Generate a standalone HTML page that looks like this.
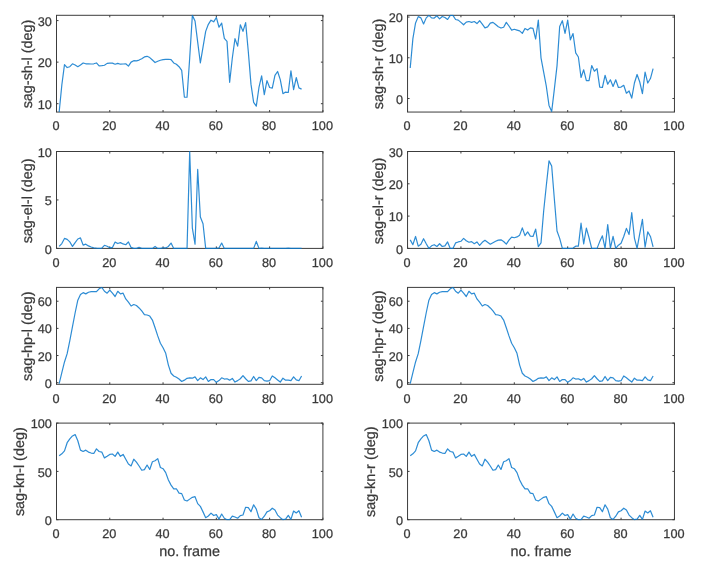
<!DOCTYPE html><html><head><meta charset="utf-8"><title>chart</title><style>html,body{margin:0;padding:0;background:#fff}svg{display:block;will-change:transform}text{font-family:"Liberation Sans",sans-serif;fill:#3a3a3a;stroke:#3a3a3a;stroke-width:0.25px;text-rendering:geometricPrecision}</style></head><body>
<svg width="701" height="571" viewBox="0 0 701 571">
<rect width="701" height="571" fill="#fff"/>
<clipPath id="c1"><rect x="56.50" y="14.60" width="266.40" height="98.15"/></clipPath>
<rect x="56.50" y="15.30" width="266.40" height="96.75" fill="none" stroke="#3c3c3c" stroke-width="1"/>
<text x="56.00" y="130.30" font-size="12.7" text-anchor="middle">0</text>
<text x="109.28" y="130.30" font-size="12.7" text-anchor="middle">20</text>
<text x="162.56" y="130.30" font-size="12.7" text-anchor="middle">40</text>
<text x="215.84" y="130.30" font-size="12.7" text-anchor="middle">60</text>
<text x="269.12" y="130.30" font-size="12.7" text-anchor="middle">80</text>
<text x="322.40" y="130.30" font-size="12.7" text-anchor="middle">100</text>
<text x="51.90" y="108.80" font-size="12.7" text-anchor="end">10</text>
<text x="51.90" y="67.24" font-size="12.7" text-anchor="end">20</text>
<text x="51.90" y="25.68" font-size="12.7" text-anchor="end">30</text>
<path d="M56.50 112.05v-2.00M56.50 15.30v2.00M109.78 112.05v-2.00M109.78 15.30v2.00M163.06 112.05v-2.00M163.06 15.30v2.00M216.34 112.05v-2.00M216.34 15.30v2.00M269.62 112.05v-2.00M269.62 15.30v2.00M322.90 112.05v-2.00M322.90 15.30v2.00M56.50 103.70h2.00M322.90 103.70h-2.00M56.50 62.14h2.00M322.90 62.14h-2.00M56.50 20.58h2.00M322.90 20.58h-2.00" stroke="#3c3c3c" stroke-width="1" fill="none"/>
<polyline clip-path="url(#c1)" points="59.16,112.01 61.83,84.99 64.49,64.63 67.16,67.54 69.82,66.71 72.48,63.80 75.15,65.05 77.81,66.71 80.48,65.05 83.14,62.97 85.80,63.80 88.47,63.80 91.13,64.01 93.80,63.80 96.46,62.97 99.12,65.88 101.79,65.67 104.45,65.25 107.12,63.38 109.78,63.18 112.44,63.18 115.11,64.22 117.77,63.38 120.44,64.22 123.10,64.01 125.76,63.80 128.43,66.09 131.09,62.14 133.76,60.68 136.42,60.89 139.08,60.06 141.75,58.81 144.41,56.94 147.08,56.32 149.74,57.57 152.40,60.06 155.07,62.55 157.73,61.31 160.40,60.27 163.06,59.64 165.72,59.44 168.39,59.23 171.05,59.64 173.72,62.97 176.38,64.22 179.04,66.71 181.71,70.45 184.37,97.05 187.04,97.25 189.70,57.98 192.36,15.38 195.03,20.99 197.69,42.19 200.36,62.97 203.02,47.18 205.68,31.38 208.35,24.32 211.01,20.16 213.68,21.82 216.34,17.46 219.00,27.23 221.67,23.07 224.33,38.45 227.00,41.36 229.66,82.29 232.32,57.98 234.99,38.66 237.65,46.14 240.32,24.73 242.98,31.38 245.64,22.66 248.31,51.75 250.97,84.16 253.64,102.45 256.30,106.19 258.96,87.49 261.63,75.85 264.29,94.55 266.96,80.63 269.62,87.49 272.28,88.11 274.95,75.44 277.61,71.49 280.28,79.59 282.94,93.72 285.60,92.06 288.27,92.48 290.93,70.86 293.60,89.57 296.26,77.51 298.92,87.90 301.59,89.15" fill="none" stroke="#0878cc" stroke-width="1.2" stroke-opacity="0.85" stroke-linejoin="round"/>
<text transform="translate(31.60 63.97) rotate(-90)" font-size="14.4" text-anchor="middle">sag-sh-l (deg)</text>
<clipPath id="c2"><rect x="407.55" y="14.60" width="266.90" height="98.15"/></clipPath>
<rect x="407.55" y="15.30" width="266.90" height="96.75" fill="none" stroke="#3c3c3c" stroke-width="1"/>
<text x="407.05" y="130.30" font-size="12.7" text-anchor="middle">0</text>
<text x="460.43" y="130.30" font-size="12.7" text-anchor="middle">20</text>
<text x="513.81" y="130.30" font-size="12.7" text-anchor="middle">40</text>
<text x="567.19" y="130.30" font-size="12.7" text-anchor="middle">60</text>
<text x="620.57" y="130.30" font-size="12.7" text-anchor="middle">80</text>
<text x="673.95" y="130.30" font-size="12.7" text-anchor="middle">100</text>
<text x="402.95" y="103.59" font-size="12.7" text-anchor="end">0</text>
<text x="402.95" y="62.87" font-size="12.7" text-anchor="end">10</text>
<text x="402.95" y="22.15" font-size="12.7" text-anchor="end">20</text>
<path d="M407.55 112.05v-2.00M407.55 15.30v2.00M460.93 112.05v-2.00M460.93 15.30v2.00M514.31 112.05v-2.00M514.31 15.30v2.00M567.69 112.05v-2.00M567.69 15.30v2.00M621.07 112.05v-2.00M621.07 15.30v2.00M674.45 112.05v-2.00M674.45 15.30v2.00M407.55 98.49h2.00M674.45 98.49h-2.00M407.55 57.77h2.00M674.45 57.77h-2.00M407.55 17.05h2.00M674.45 17.05h-2.00" stroke="#3c3c3c" stroke-width="1" fill="none"/>
<polyline clip-path="url(#c2)" points="410.22,67.95 412.89,38.63 415.56,22.96 418.23,16.64 420.90,17.87 423.56,23.97 426.23,17.87 428.90,15.42 431.57,17.87 434.24,18.07 436.91,15.83 439.58,18.88 442.25,16.44 444.92,17.46 447.59,19.49 450.25,15.42 452.92,15.42 455.59,19.49 458.26,20.10 460.93,22.34 463.60,24.79 466.27,22.14 468.94,21.53 471.61,22.34 474.28,21.53 476.94,23.57 479.61,20.72 482.28,24.18 484.95,27.84 487.62,26.82 490.29,23.16 492.96,22.34 495.63,24.58 498.30,26.82 500.97,28.05 503.63,27.23 506.30,22.34 508.97,26.01 511.64,30.08 514.31,29.27 516.98,30.08 519.65,30.90 522.32,33.34 524.99,28.45 527.65,30.08 530.32,27.84 532.99,28.45 535.66,39.04 538.33,20.10 541.00,57.77 543.67,72.02 546.34,86.48 549.01,105.41 551.68,111.52 554.35,89.12 557.01,65.91 559.68,26.42 562.35,20.72 565.02,33.34 567.69,20.10 570.36,39.85 573.03,33.54 575.70,52.88 578.37,56.96 581.04,77.52 583.70,69.78 586.37,80.57 589.04,80.57 591.71,65.51 594.38,71.21 597.05,68.56 599.72,87.09 602.39,87.50 605.06,75.28 607.73,84.24 610.39,79.76 613.06,86.48 615.73,79.76 618.40,87.50 621.07,87.09 623.74,85.26 626.41,93.20 629.08,90.96 631.75,98.08 634.42,83.02 637.08,74.47 639.75,82.00 642.42,93.60 645.09,72.02 647.76,83.02 650.43,78.54 653.10,68.56" fill="none" stroke="#0878cc" stroke-width="1.2" stroke-opacity="0.85" stroke-linejoin="round"/>
<text transform="translate(382.65 63.97) rotate(-90)" font-size="14.4" text-anchor="middle">sag-sh-r (deg)</text>
<clipPath id="c3"><rect x="56.50" y="150.80" width="266.40" height="98.30"/></clipPath>
<rect x="56.50" y="151.50" width="266.40" height="96.90" fill="none" stroke="#3c3c3c" stroke-width="1"/>
<text x="56.00" y="266.65" font-size="12.7" text-anchor="middle">0</text>
<text x="109.28" y="266.65" font-size="12.7" text-anchor="middle">20</text>
<text x="162.56" y="266.65" font-size="12.7" text-anchor="middle">40</text>
<text x="215.84" y="266.65" font-size="12.7" text-anchor="middle">60</text>
<text x="269.12" y="266.65" font-size="12.7" text-anchor="middle">80</text>
<text x="322.40" y="266.65" font-size="12.7" text-anchor="middle">100</text>
<text x="51.90" y="253.50" font-size="12.7" text-anchor="end">0</text>
<text x="51.90" y="205.05" font-size="12.7" text-anchor="end">5</text>
<text x="51.90" y="156.60" font-size="12.7" text-anchor="end">10</text>
<path d="M56.50 248.40v-2.00M56.50 151.50v2.00M109.78 248.40v-2.00M109.78 151.50v2.00M163.06 248.40v-2.00M163.06 151.50v2.00M216.34 248.40v-2.00M216.34 151.50v2.00M269.62 248.40v-2.00M269.62 151.50v2.00M322.90 248.40v-2.00M322.90 151.50v2.00M56.50 248.40h2.00M322.90 248.40h-2.00M56.50 199.95h2.00M322.90 199.95h-2.00M56.50 151.50h2.00M322.90 151.50h-2.00" stroke="#3c3c3c" stroke-width="1" fill="none"/>
<polyline clip-path="url(#c3)" points="59.16,246.46 61.83,243.56 64.49,238.42 67.16,239.39 69.82,241.91 72.48,246.46 75.15,242.59 77.81,239.00 80.48,237.93 83.14,245.11 85.80,244.14 88.47,245.88 91.13,247.04 93.80,247.82 96.46,248.21 99.12,248.40 101.79,248.21 104.45,245.30 107.12,246.27 109.78,247.82 112.44,247.43 115.11,242.10 117.77,243.56 120.44,242.59 123.10,243.94 125.76,244.72 128.43,241.91 131.09,247.43 133.76,248.40 136.42,248.40 139.08,247.43 141.75,248.40 144.41,248.40 147.08,248.40 149.74,248.40 152.40,248.40 155.07,246.46 157.73,248.40 160.40,248.40 163.06,247.92 165.72,247.92 168.39,246.46 171.05,243.07 173.72,248.40 176.38,248.40 179.04,248.40 181.71,248.40 184.37,248.40 187.04,248.40 189.70,151.50 192.36,228.05 195.03,244.23 197.69,169.43 200.36,216.91 203.02,223.69 205.68,248.40 208.35,248.40 211.01,248.40 213.68,248.40 216.34,248.40 219.00,247.92 221.67,243.07 224.33,248.40 227.00,248.40 229.66,248.40 232.32,248.40 234.99,248.40 237.65,248.40 240.32,248.40 242.98,248.40 245.64,248.40 248.31,248.40 250.97,248.40 253.64,248.40 256.30,241.42 258.96,248.40 261.63,248.11 264.29,248.40 266.96,248.40 269.62,248.40 272.28,248.40 274.95,248.40 277.61,248.40 280.28,248.40 282.94,248.40 285.60,248.40 288.27,248.11 290.93,248.40 293.60,248.40 296.26,248.40 298.92,248.40 301.59,248.40" fill="none" stroke="#0878cc" stroke-width="1.2" stroke-opacity="0.85" stroke-linejoin="round"/>
<text transform="translate(31.60 200.95) rotate(-90)" font-size="14.4" text-anchor="middle">sag-el-l (deg)</text>
<clipPath id="c4"><rect x="407.55" y="150.80" width="266.90" height="98.30"/></clipPath>
<rect x="407.55" y="151.50" width="266.90" height="96.90" fill="none" stroke="#3c3c3c" stroke-width="1"/>
<text x="407.05" y="266.65" font-size="12.7" text-anchor="middle">0</text>
<text x="460.43" y="266.65" font-size="12.7" text-anchor="middle">20</text>
<text x="513.81" y="266.65" font-size="12.7" text-anchor="middle">40</text>
<text x="567.19" y="266.65" font-size="12.7" text-anchor="middle">60</text>
<text x="620.57" y="266.65" font-size="12.7" text-anchor="middle">80</text>
<text x="673.95" y="266.65" font-size="12.7" text-anchor="middle">100</text>
<text x="402.95" y="253.50" font-size="12.7" text-anchor="end">0</text>
<text x="402.95" y="221.20" font-size="12.7" text-anchor="end">10</text>
<text x="402.95" y="188.90" font-size="12.7" text-anchor="end">20</text>
<text x="402.95" y="156.60" font-size="12.7" text-anchor="end">30</text>
<path d="M407.55 248.40v-2.00M407.55 151.50v2.00M460.93 248.40v-2.00M460.93 151.50v2.00M514.31 248.40v-2.00M514.31 151.50v2.00M567.69 248.40v-2.00M567.69 151.50v2.00M621.07 248.40v-2.00M621.07 151.50v2.00M674.45 248.40v-2.00M674.45 151.50v2.00M407.55 248.40h2.00M674.45 248.40h-2.00M407.55 216.10h2.00M674.45 216.10h-2.00M407.55 183.80h2.00M674.45 183.80h-2.00M407.55 151.50h2.00M674.45 151.50h-2.00" stroke="#3c3c3c" stroke-width="1" fill="none"/>
<polyline clip-path="url(#c4)" points="410.22,239.84 412.89,244.69 415.56,236.45 418.23,246.14 420.90,244.20 423.56,238.71 426.23,243.72 428.90,248.40 431.57,245.82 434.24,244.69 436.91,246.46 439.58,243.72 442.25,246.46 444.92,245.82 447.59,241.94 450.25,248.40 452.92,248.40 455.59,242.91 458.26,241.94 460.93,241.29 463.60,238.39 466.27,240.81 468.94,242.26 471.61,241.62 474.28,243.72 476.94,241.94 479.61,245.49 482.28,242.26 484.95,240.33 487.62,242.26 490.29,244.20 492.96,242.75 495.63,241.29 498.30,240.16 500.97,239.84 503.63,241.46 506.30,244.20 508.97,240.16 511.64,237.09 514.31,237.74 516.98,236.93 519.65,235.16 522.32,227.89 524.99,235.64 527.65,231.93 530.32,236.13 532.99,236.45 535.66,229.18 538.33,246.62 541.00,242.91 543.67,210.93 546.34,185.25 549.01,160.87 551.68,166.04 554.35,198.98 557.01,230.96 559.68,238.39 562.35,248.40 565.02,248.40 567.69,248.40 570.36,248.40 573.03,248.08 575.70,246.14 578.37,246.14 581.04,223.21 583.70,243.88 586.37,228.21 589.04,237.74 591.71,248.40 594.38,248.40 597.05,248.40 599.72,241.62 602.39,235.80 605.06,248.40 607.73,224.50 610.39,248.08 613.06,236.45 615.73,248.40 618.40,245.17 621.07,243.23 623.74,236.45 626.41,228.37 629.08,234.51 631.75,212.71 634.42,238.06 637.08,248.40 639.75,233.70 642.42,219.33 645.09,247.27 647.76,231.93 650.43,236.45 653.10,246.95" fill="none" stroke="#0878cc" stroke-width="1.2" stroke-opacity="0.85" stroke-linejoin="round"/>
<text transform="translate(382.65 200.95) rotate(-90)" font-size="14.4" text-anchor="middle">sag-el-r (deg)</text>
<clipPath id="c5"><rect x="56.50" y="286.70" width="266.40" height="98.30"/></clipPath>
<rect x="56.50" y="287.40" width="266.40" height="96.90" fill="none" stroke="#3c3c3c" stroke-width="1"/>
<text x="56.00" y="402.55" font-size="12.7" text-anchor="middle">0</text>
<text x="109.28" y="402.55" font-size="12.7" text-anchor="middle">20</text>
<text x="162.56" y="402.55" font-size="12.7" text-anchor="middle">40</text>
<text x="215.84" y="402.55" font-size="12.7" text-anchor="middle">60</text>
<text x="269.12" y="402.55" font-size="12.7" text-anchor="middle">80</text>
<text x="322.40" y="402.55" font-size="12.7" text-anchor="middle">100</text>
<text x="51.90" y="387.80" font-size="12.7" text-anchor="end">0</text>
<text x="51.90" y="360.64" font-size="12.7" text-anchor="end">20</text>
<text x="51.90" y="333.48" font-size="12.7" text-anchor="end">40</text>
<text x="51.90" y="306.32" font-size="12.7" text-anchor="end">60</text>
<path d="M56.50 384.30v-2.00M56.50 287.40v2.00M109.78 384.30v-2.00M109.78 287.40v2.00M163.06 384.30v-2.00M163.06 287.40v2.00M216.34 384.30v-2.00M216.34 287.40v2.00M269.62 384.30v-2.00M269.62 287.40v2.00M322.90 384.30v-2.00M322.90 287.40v2.00M56.50 382.70h2.00M322.90 382.70h-2.00M56.50 355.54h2.00M322.90 355.54h-2.00M56.50 328.38h2.00M322.90 328.38h-2.00M56.50 301.22h2.00M322.90 301.22h-2.00" stroke="#3c3c3c" stroke-width="1" fill="none"/>
<polyline clip-path="url(#c5)" points="59.16,383.72 61.83,372.56 64.49,361.95 67.16,353.68 69.82,340.73 72.48,326.68 75.15,312.76 77.81,300.22 80.48,294.44 83.14,292.64 85.80,293.88 88.47,292.23 91.13,291.68 93.80,291.68 96.46,291.68 99.12,288.79 101.79,287.41 104.45,291.27 107.12,293.20 109.78,290.03 112.44,293.20 115.11,296.50 117.77,291.27 120.44,293.88 123.10,293.20 125.76,298.98 128.43,302.15 131.09,306.01 133.76,304.49 136.42,305.46 139.08,307.94 141.75,310.97 144.41,314.55 147.08,314.97 149.74,316.07 152.40,320.06 155.07,327.78 157.73,335.91 160.40,343.21 163.06,347.76 165.72,353.27 168.39,365.12 171.05,373.25 173.72,376.01 176.38,377.25 179.04,379.04 181.71,381.45 184.37,380.14 187.04,378.35 189.70,377.80 192.36,378.21 195.03,376.90 197.69,380.55 200.36,377.80 203.02,379.59 205.68,376.90 208.35,381.45 211.01,379.59 213.68,379.59 216.34,382.34 219.00,380.55 221.67,377.80 224.33,379.04 227.00,378.76 229.66,380.14 232.32,378.42 234.99,382.07 237.65,380.62 240.32,378.76 242.98,375.59 245.64,378.76 248.31,381.38 250.97,380.83 253.64,376.49 256.30,380.62 258.96,377.31 261.63,377.80 264.29,380.69 266.96,381.10 269.62,380.69 272.28,375.94 274.95,377.80 277.61,379.93 280.28,382.07 282.94,378.21 285.60,380.21 288.27,380.21 290.93,380.69 293.60,376.83 296.26,379.93 298.92,380.69 301.59,375.94" fill="none" stroke="#0878cc" stroke-width="1.2" stroke-opacity="0.85" stroke-linejoin="round"/>
<text transform="translate(31.60 336.15) rotate(-90)" font-size="14.4" text-anchor="middle">sag-hp-l (deg)</text>
<clipPath id="c6"><rect x="407.55" y="286.70" width="266.90" height="98.30"/></clipPath>
<rect x="407.55" y="287.40" width="266.90" height="96.90" fill="none" stroke="#3c3c3c" stroke-width="1"/>
<text x="407.05" y="402.55" font-size="12.7" text-anchor="middle">0</text>
<text x="460.43" y="402.55" font-size="12.7" text-anchor="middle">20</text>
<text x="513.81" y="402.55" font-size="12.7" text-anchor="middle">40</text>
<text x="567.19" y="402.55" font-size="12.7" text-anchor="middle">60</text>
<text x="620.57" y="402.55" font-size="12.7" text-anchor="middle">80</text>
<text x="673.95" y="402.55" font-size="12.7" text-anchor="middle">100</text>
<text x="402.95" y="387.80" font-size="12.7" text-anchor="end">0</text>
<text x="402.95" y="360.64" font-size="12.7" text-anchor="end">20</text>
<text x="402.95" y="333.48" font-size="12.7" text-anchor="end">40</text>
<text x="402.95" y="306.32" font-size="12.7" text-anchor="end">60</text>
<path d="M407.55 384.30v-2.00M407.55 287.40v2.00M460.93 384.30v-2.00M460.93 287.40v2.00M514.31 384.30v-2.00M514.31 287.40v2.00M567.69 384.30v-2.00M567.69 287.40v2.00M621.07 384.30v-2.00M621.07 287.40v2.00M674.45 384.30v-2.00M674.45 287.40v2.00M407.55 382.70h2.00M674.45 382.70h-2.00M407.55 355.54h2.00M674.45 355.54h-2.00M407.55 328.38h2.00M674.45 328.38h-2.00M407.55 301.22h2.00M674.45 301.22h-2.00" stroke="#3c3c3c" stroke-width="1" fill="none"/>
<polyline clip-path="url(#c6)" points="410.22,383.72 412.89,372.56 415.56,361.95 418.23,353.68 420.90,340.73 423.56,326.68 426.23,312.76 428.90,300.22 431.57,294.44 434.24,292.64 436.91,293.88 439.58,292.23 442.25,291.68 444.92,291.68 447.59,291.68 450.25,288.79 452.92,287.41 455.59,291.27 458.26,293.20 460.93,290.03 463.60,293.20 466.27,296.50 468.94,291.27 471.61,293.88 474.28,293.20 476.94,298.98 479.61,302.15 482.28,306.01 484.95,304.49 487.62,305.46 490.29,307.94 492.96,310.97 495.63,314.55 498.30,314.97 500.97,316.07 503.63,320.06 506.30,327.78 508.97,335.91 511.64,343.21 514.31,347.76 516.98,353.27 519.65,365.12 522.32,373.25 524.99,376.01 527.65,377.25 530.32,379.04 532.99,381.45 535.66,380.14 538.33,378.35 541.00,377.80 543.67,378.21 546.34,376.90 549.01,380.55 551.68,377.80 554.35,379.59 557.01,376.90 559.68,381.45 562.35,379.59 565.02,379.59 567.69,382.34 570.36,380.55 573.03,377.80 575.70,379.04 578.37,378.76 581.04,380.14 583.70,378.42 586.37,382.07 589.04,380.62 591.71,378.76 594.38,375.59 597.05,378.76 599.72,381.38 602.39,380.83 605.06,376.49 607.73,380.62 610.39,377.31 613.06,377.80 615.73,380.69 618.40,381.10 621.07,380.69 623.74,375.94 626.41,377.80 629.08,379.93 631.75,382.07 634.42,378.21 637.08,380.21 639.75,380.21 642.42,380.69 645.09,376.83 647.76,379.93 650.43,380.69 653.10,375.94" fill="none" stroke="#0878cc" stroke-width="1.2" stroke-opacity="0.85" stroke-linejoin="round"/>
<text transform="translate(382.65 336.15) rotate(-90)" font-size="14.4" text-anchor="middle">sag-hp-r (deg)</text>
<clipPath id="c7"><rect x="56.50" y="422.40" width="266.40" height="98.00"/></clipPath>
<rect x="56.50" y="423.10" width="266.40" height="96.60" fill="none" stroke="#3c3c3c" stroke-width="1"/>
<text x="56.00" y="537.95" font-size="12.7" text-anchor="middle">0</text>
<text x="109.28" y="537.95" font-size="12.7" text-anchor="middle">20</text>
<text x="162.56" y="537.95" font-size="12.7" text-anchor="middle">40</text>
<text x="215.84" y="537.95" font-size="12.7" text-anchor="middle">60</text>
<text x="269.12" y="537.95" font-size="12.7" text-anchor="middle">80</text>
<text x="322.40" y="537.95" font-size="12.7" text-anchor="middle">100</text>
<text x="51.90" y="524.80" font-size="12.7" text-anchor="end">0</text>
<text x="51.90" y="476.50" font-size="12.7" text-anchor="end">50</text>
<text x="51.90" y="428.20" font-size="12.7" text-anchor="end">100</text>
<path d="M56.50 519.70v-2.00M56.50 423.10v2.00M109.78 519.70v-2.00M109.78 423.10v2.00M163.06 519.70v-2.00M163.06 423.10v2.00M216.34 519.70v-2.00M216.34 423.10v2.00M269.62 519.70v-2.00M269.62 423.10v2.00M322.90 519.70v-2.00M322.90 423.10v2.00M56.50 519.70h2.00M322.90 519.70h-2.00M56.50 471.40h2.00M322.90 471.40h-2.00M56.50 423.10h2.00M322.90 423.10h-2.00" stroke="#3c3c3c" stroke-width="1" fill="none"/>
<polyline clip-path="url(#c7)" points="59.16,455.75 61.83,453.82 64.49,450.92 67.16,442.71 69.82,438.85 72.48,435.95 75.15,434.60 77.81,440.78 80.48,450.15 83.14,451.50 85.80,450.15 88.47,452.08 91.13,453.05 93.80,453.43 96.46,448.89 99.12,451.50 101.79,452.08 104.45,457.88 107.12,456.33 109.78,454.40 112.44,454.01 115.11,456.33 117.77,452.08 120.44,456.33 123.10,454.40 125.76,459.23 128.43,464.06 131.09,465.99 133.76,459.23 136.42,462.13 139.08,465.99 141.75,470.24 144.41,469.66 147.08,465.02 149.74,469.47 152.40,461.74 155.07,460.77 157.73,458.65 160.40,467.54 163.06,468.70 165.72,472.66 168.39,480.00 171.05,485.12 173.72,488.79 176.38,488.79 179.04,493.14 181.71,493.62 184.37,499.99 187.04,500.96 189.70,499.12 192.36,497.29 195.03,496.71 197.69,503.66 200.36,506.37 203.02,511.88 205.68,517.67 208.35,516.03 211.01,513.13 213.68,515.55 216.34,514.58 219.00,519.12 221.67,514.05 224.33,518.25 227.00,519.70 229.66,519.70 232.32,516.13 234.99,517.04 237.65,518.25 240.32,515.69 242.98,515.01 245.64,507.24 248.31,507.63 250.97,511.68 253.64,504.78 256.30,509.12 258.96,517.77 261.63,519.41 264.29,516.22 266.96,511.88 269.62,510.76 272.28,508.20 274.95,510.04 277.61,515.06 280.28,517.67 282.94,519.70 285.60,519.12 288.27,515.35 290.93,519.41 293.60,511.01 296.26,512.94 298.92,510.76 301.59,517.29" fill="none" stroke="#0878cc" stroke-width="1.2" stroke-opacity="0.85" stroke-linejoin="round"/>
<text transform="translate(23.80 471.70) rotate(-90)" font-size="14.4" text-anchor="middle">sag-kn-l (deg)</text>
<text x="189.70" y="556.00" font-size="14.4" text-anchor="middle">no. frame</text>
<clipPath id="c8"><rect x="407.55" y="422.40" width="266.90" height="98.00"/></clipPath>
<rect x="407.55" y="423.10" width="266.90" height="96.60" fill="none" stroke="#3c3c3c" stroke-width="1"/>
<text x="407.05" y="537.95" font-size="12.7" text-anchor="middle">0</text>
<text x="460.43" y="537.95" font-size="12.7" text-anchor="middle">20</text>
<text x="513.81" y="537.95" font-size="12.7" text-anchor="middle">40</text>
<text x="567.19" y="537.95" font-size="12.7" text-anchor="middle">60</text>
<text x="620.57" y="537.95" font-size="12.7" text-anchor="middle">80</text>
<text x="673.95" y="537.95" font-size="12.7" text-anchor="middle">100</text>
<text x="402.95" y="524.80" font-size="12.7" text-anchor="end">0</text>
<text x="402.95" y="476.50" font-size="12.7" text-anchor="end">50</text>
<text x="402.95" y="428.20" font-size="12.7" text-anchor="end">100</text>
<path d="M407.55 519.70v-2.00M407.55 423.10v2.00M460.93 519.70v-2.00M460.93 423.10v2.00M514.31 519.70v-2.00M514.31 423.10v2.00M567.69 519.70v-2.00M567.69 423.10v2.00M621.07 519.70v-2.00M621.07 423.10v2.00M674.45 519.70v-2.00M674.45 423.10v2.00M407.55 519.70h2.00M674.45 519.70h-2.00M407.55 471.40h2.00M674.45 471.40h-2.00M407.55 423.10h2.00M674.45 423.10h-2.00" stroke="#3c3c3c" stroke-width="1" fill="none"/>
<polyline clip-path="url(#c8)" points="410.22,455.75 412.89,453.82 415.56,450.92 418.23,442.71 420.90,438.85 423.56,435.95 426.23,434.60 428.90,440.78 431.57,450.15 434.24,451.50 436.91,450.15 439.58,452.08 442.25,453.05 444.92,453.43 447.59,448.89 450.25,451.50 452.92,452.08 455.59,457.88 458.26,456.33 460.93,454.40 463.60,454.01 466.27,456.33 468.94,452.08 471.61,456.33 474.28,454.40 476.94,459.23 479.61,464.06 482.28,465.99 484.95,459.23 487.62,462.13 490.29,465.99 492.96,470.24 495.63,469.66 498.30,465.02 500.97,469.47 503.63,461.74 506.30,460.77 508.97,458.65 511.64,467.54 514.31,468.70 516.98,472.66 519.65,480.00 522.32,485.12 524.99,488.79 527.65,488.79 530.32,493.14 532.99,493.62 535.66,499.99 538.33,500.96 541.00,499.12 543.67,497.29 546.34,496.71 549.01,503.66 551.68,506.37 554.35,511.88 557.01,517.67 559.68,516.03 562.35,513.13 565.02,515.55 567.69,514.58 570.36,519.12 573.03,514.05 575.70,518.25 578.37,519.70 581.04,519.70 583.70,516.13 586.37,517.04 589.04,518.25 591.71,515.69 594.38,515.01 597.05,507.24 599.72,507.63 602.39,511.68 605.06,504.78 607.73,509.12 610.39,517.77 613.06,519.41 615.73,516.22 618.40,511.88 621.07,510.76 623.74,508.20 626.41,510.04 629.08,515.06 631.75,517.67 634.42,519.70 637.08,519.12 639.75,515.35 642.42,519.41 645.09,511.01 647.76,512.94 650.43,510.76 653.10,517.29" fill="none" stroke="#0878cc" stroke-width="1.2" stroke-opacity="0.85" stroke-linejoin="round"/>
<text transform="translate(374.85 471.70) rotate(-90)" font-size="14.4" text-anchor="middle">sag-kn-r (deg)</text>
<text x="541.00" y="556.00" font-size="14.4" text-anchor="middle">no. frame</text>
</svg></body></html>
